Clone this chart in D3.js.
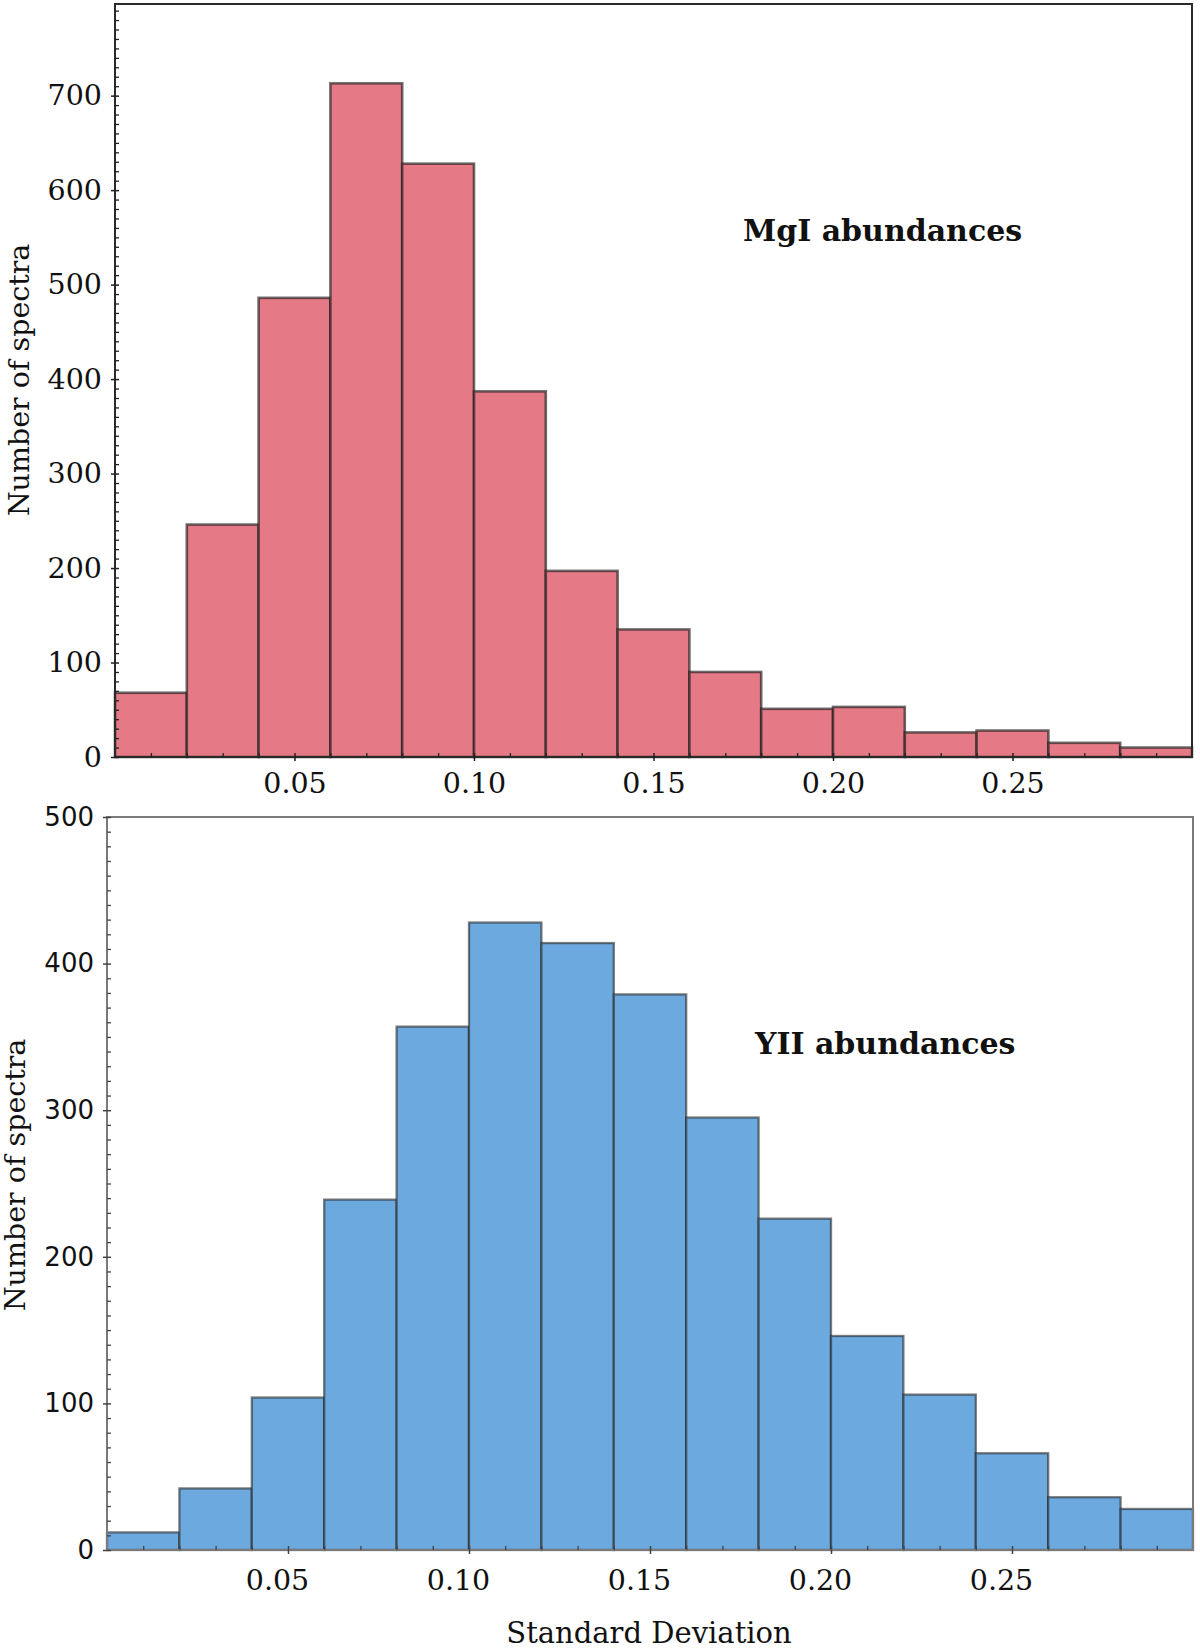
<!DOCTYPE html>
<html>
<head>
<meta charset="utf-8">
<script src="https://cdn.jsdelivr.net/npm/d3@7"></script>
<style>
  html, body { margin: 0; padding: 0; background: #fff; }
  svg { display: block; }
  .serif { font-family: "DejaVu Serif", serif; }
  .sans { font-family: "DejaVu Sans", sans-serif; }
</style>
</head>
<body>
<svg id="chart" width="1200" height="1649"></svg>
<script>
// bins of standard deviation (lower edges), width 0.02
const binLo = [0.00, 0.02, 0.04, 0.06, 0.08, 0.10, 0.12, 0.14, 0.16, 0.18, 0.20, 0.22, 0.24, 0.26, 0.28];
const binWidth = 0.02;
const mgCounts = [68, 246, 486, 713, 628, 387, 197, 135, 90, 51, 53, 26, 28, 15, 10];
const yCounts = [12, 42, 104, 239, 357, 428, 414, 379, 295, 226, 146, 106, 66, 36, 28];

const xMajor = [0.05, 0.10, 0.15, 0.20, 0.25];
const xMinor = [0.01, 0.02, 0.03, 0.04, 0.06, 0.07, 0.08, 0.09, 0.11, 0.12, 0.13, 0.14,
  0.16, 0.17, 0.18, 0.19, 0.21, 0.22, 0.23, 0.24, 0.26, 0.27, 0.28, 0.29];
const mgYTicks = [0, 100, 200, 300, 400, 500, 600, 700];
const yYTicks = [0, 100, 200, 300, 400, 500];

const svg = d3.select("#chart");

function panel(opts) {
  const { box, counts, yMax, yTicks, fill, frame, edge, edgeWidth, label, labelPos, labelWeight,
    yFont, xFont, xLabelShift, xPad, tickColor, ylabel } = opts;
  const g = svg.append("g");

  const x = d3.scaleLinear().domain([0, 0.30]).range([box.left, box.right]);
  const y = d3.scaleLinear().domain([0, yMax]).range([box.bottom, box.top]);

  const bins = binLo.map((lo, i) => ({ lo, hi: lo + binWidth, n: counts[i] }));

  g.append("g")
    .selectAll("rect")
    .data(bins)
    .join("rect")
    .attr("x", (d) => x(d.lo))
    .attr("y", (d) => y(d.n))
    .attr("width", (d) => x(d.hi) - x(d.lo))
    .attr("height", (d) => y(0) - y(d.n))
    .attr("fill", fill)
    .attr("stroke", edge)
    .attr("stroke-width", edgeWidth);

  // frame
  g.append("rect")
    .attr("x", box.left)
    .attr("y", box.top)
    .attr("width", box.right - box.left)
    .attr("height", box.bottom - box.top)
    .attr("fill", "none")
    .attr("stroke", frame)
    .attr("stroke-width", 2);

  // y minor ticks (inward)
  const yMinor = d3.range(0, yMax + 1, 10).filter((v) => v % 100 !== 0);
  g.append("g")
    .attr("transform", `translate(${box.left},0)`)
    .call(d3.axisLeft(y).tickValues(yMinor).tickSize(-4).tickFormat(""))
    .call((s) => s.select(".domain").remove())
    .call((s) => s.selectAll(".tick line").attr("stroke", tickColor).attr("stroke-width", 1.3));

  // y major ticks with labels
  g.append("g")
    .attr("transform", `translate(${box.left},0)`)
    .call(d3.axisLeft(y).tickValues(yTicks).tickSize(4).tickPadding(9).tickFormat(d3.format("d")))
    .call((s) => s.select(".domain").remove())
    .call((s) => s.selectAll(".tick line").attr("x1", 4).attr("stroke", tickColor).attr("stroke-width", 1.5))
    .call((s) => s.selectAll(".tick text")
      .attr("class", yFont.cls)
      .attr("font-size", yFont.size)
      .attr("fill", "#111"));

  // x minor ticks (inward)
  g.append("g")
    .attr("transform", `translate(0,${box.bottom})`)
    .call(d3.axisBottom(x).tickValues(xMinor).tickSize(-4).tickFormat(""))
    .call((s) => s.select(".domain").remove())
    .call((s) => s.selectAll(".tick line").attr("stroke", tickColor).attr("stroke-width", 1.3));

  // x major ticks
  g.append("g")
    .attr("transform", `translate(0,${box.bottom})`)
    .call(d3.axisBottom(x).tickValues(xMajor).tickSize(4).tickPadding(xPad).tickFormat(d3.format(".2f")))
    .call((s) => s.select(".domain").remove())
    .call((s) => s.selectAll(".tick line").attr("y1", -4).attr("stroke", tickColor).attr("stroke-width", 1.5))
    .call((s) => s.selectAll(".tick text")
      .attr("class", xFont.cls)
      .attr("font-size", xFont.size)
      .attr("dx", xLabelShift)
      .attr("fill", "#111"));

  g.append("text")
    .attr("class", "serif")
    .attr("transform", `translate(${ylabel[0]},${ylabel[1]}) rotate(-90)`)
    .attr("text-anchor", "middle")
    .attr("font-size", 28.5)
    .attr("fill", "#111")
    .text("Number of spectra");

  g.append("text")
    .attr("class", "serif")
    .attr("x", labelPos[0])
    .attr("y", labelPos[1])
    .attr("font-size", 30)
    .attr("font-weight", labelWeight)
    .attr("fill", "#111")
    .text(label);

  return { x, y };
}

panel({
  box: { left: 115, right: 1192, top: 4, bottom: 757 },
  counts: mgCounts,
  yMax: 797,
  yTicks: mgYTicks,
  fill: "#e57985",
  frame: "#2a2a2a",
  edge: "rgba(30,30,30,0.65)",
  edgeWidth: 2.6,
  label: "MgI abundances",
  labelPos: [743, 241],
  labelWeight: "bold",
  yFont: { cls: "serif", size: 28.5 },
  xFont: { cls: "serif", size: 28.5 },
  xLabelShift: 0,
  xPad: 12,
  tickColor: "#222",
  ylabel: [29, 380]
});

panel({
  box: { left: 107, right: 1193, top: 817, bottom: 1550 },
  counts: yCounts,
  yMax: 500,
  yTicks: yYTicks,
  fill: "#6ca9de",
  frame: "#7a7a7a",
  edge: "rgba(40,40,40,0.6)",
  edgeWidth: 2.3,
  label: "YII abundances",
  labelPos: [755, 1054],
  labelWeight: "bold",
  yFont: { cls: "sans", size: 26 },
  xFont: { cls: "serif", size: 28.5 },
  xLabelShift: -11,
  xPad: 16,
  tickColor: "#444",
  ylabel: [25, 1175]
});

svg.append("text")
  .attr("class", "serif")
  .attr("x", 649)
  .attr("y", 1643)
  .attr("text-anchor", "middle")
  .attr("font-size", 29)
  .attr("fill", "#111")
  .text("Standard Deviation");
</script>
</body>
</html>
